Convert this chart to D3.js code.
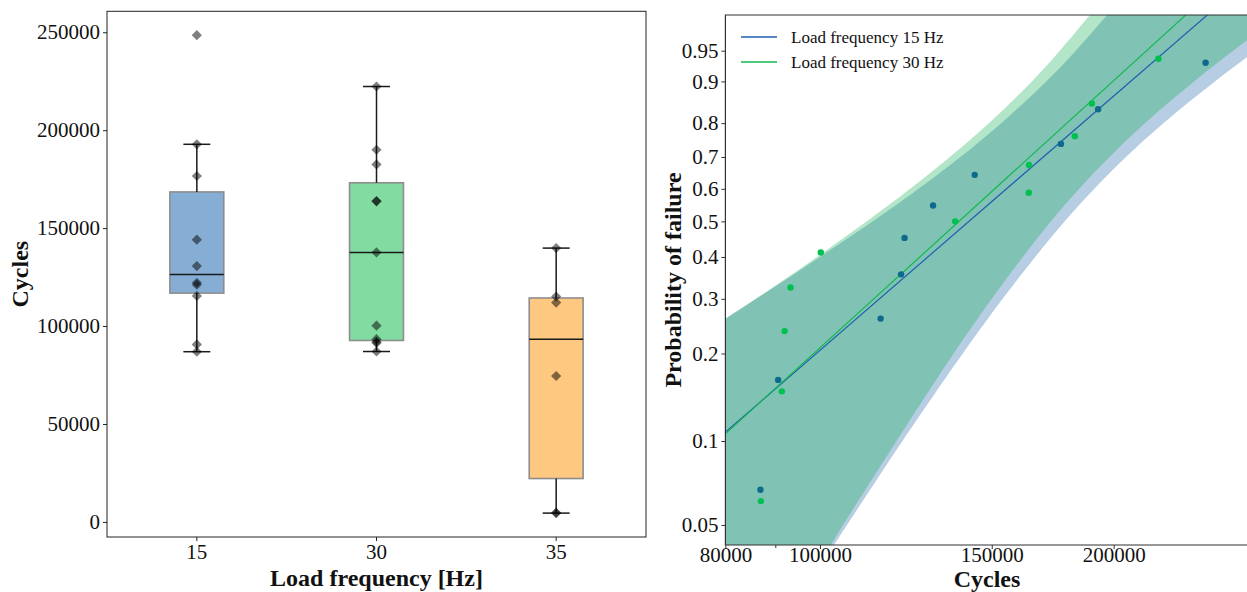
<!DOCTYPE html>
<html>
<head>
<meta charset="utf-8">
<script src="https://cdn.jsdelivr.net/npm/d3@7"></script>
<style>
  body { margin: 0; background: #fff; }
  svg { display: block; }
  text { font-family: "Liberation Serif", "Times New Roman", serif; fill: #111; }
</style>
</head>
<body>
<svg id="chart" width="1247" height="592"></svg>
<script>
// ---- fatigue test results (cycles to failure) per load frequency ----
const frequencies = ["15", "30", "35"];
const cycles15 = [86900, 90600, 115400, 121100, 122100, 130600, 144100, 176600, 192800, 248500];
const cycles30 = [87000, 91400, 92000, 93300, 100200, 137600, 163700, 163800, 182500, 190000, 222300];
const cycles35 = [4500, 4700, 74500, 112000, 115100, 139800];
const boxColors = ["#86aed4", "#82dca2", "#ffc880"];
const cycleTicks = [0, 50000, 100000, 150000, 200000, 250000];

// ---- Weibull probability plot ----
const rank15 = [0.067, 0.163, 0.260, 0.356, 0.452, 0.548, 0.644, 0.740, 0.837, 0.933];
const rank30 = [0.061, 0.149, 0.237, 0.325, 0.412, 0.500, 0.588, 0.675, 0.763, 0.851, 0.939];
const shape15 = 3.146, scale15 = 159700;
const shape30 = 3.306, scale30 = 155100;
// confidence bounds on cycles at each probability level
const bandProb = [0.03, 0.04, 0.05, 0.07, 0.1, 0.15, 0.2, 0.3, 0.4, 0.5, 0.6, 0.7, 0.8, 0.9, 0.95, 0.98, 0.99];
const band15Low  = [28540, 32620, 36190, 42380, 50160, 60910, 70130, 86020, 100000, 113300, 126200, 139300, 153400, 170600, 182900, 195100, 202600];
const band15High = [97080, 102300, 106600, 113500, 121500, 131800, 140100, 153900, 166200, 178200, 191100, 205900, 224900, 254000, 279900, 310900, 332200];
const band30Low  = [30110, 34190, 37750, 43870, 51510, 61960, 70810, 85970, 99290, 111700, 123700, 135900, 149000, 164900, 176100, 187400, 194200];
const band30High = [96670, 101600, 105600, 112200, 119800, 129400, 137100, 150000, 161400, 172500, 184400, 198000, 215300, 241800, 265200, 293000, 312000];
const probTicks = [0.05, 0.1, 0.2, 0.3, 0.4, 0.5, 0.6, 0.7, 0.8, 0.9, 0.95];
const cycleAxisTicks = [80000, 100000, 150000, 200000];
const cycleMinorTicks = [90000];
const probLimits = [0.04227, 0.98291];
const cycleLimits = [80000, 275000];

const svg = d3.select("#chart");

// =================== left: box plot ===================
const L = { left: 107, right: 646, top: 11.3, bottom: 537 };
const groups = [cycles15, cycles30, cycles35];

const xBand = d3.scaleBand().domain(frequencies).range([L.left, L.right]).padding(0);
const yLeft = d3.scaleLinear().domain([-7700, 260700]).range([L.bottom, L.top]);

const left = svg.append("g");

groups.forEach((vals, i) => {
  const s = vals.slice().sort(d3.ascending);
  const q1 = d3.quantile(s, 0.25), med = d3.quantile(s, 0.5), q3 = d3.quantile(s, 0.75);
  const iqr = q3 - q1;
  const lo = d3.min(s.filter(v => v >= q1 - 1.5 * iqr));
  const hi = d3.max(s.filter(v => v <= q3 + 1.5 * iqr));
  const cx = xBand(frequencies[i]) + xBand.bandwidth() / 2;
  const bw = xBand.bandwidth() * 0.3;
  const cap = xBand.bandwidth() * 0.15;
  const g = left.append("g");

  g.append("rect")
    .attr("x", cx - bw / 2).attr("width", bw)
    .attr("y", yLeft(q3)).attr("height", yLeft(q1) - yLeft(q3))
    .attr("fill", boxColors[i])
    .attr("stroke", "#8d8d8d").attr("stroke-width", 1.6);

  const line = (x1, y1, x2, y2) => g.append("line")
    .attr("x1", x1).attr("y1", y1).attr("x2", x2).attr("y2", y2)
    .attr("stroke", "#1a1a1a").attr("stroke-width", 1.5);

  line(cx - bw / 2, yLeft(med), cx + bw / 2, yLeft(med));
  line(cx, yLeft(q3), cx, yLeft(hi));
  line(cx, yLeft(q1), cx, yLeft(lo));
  line(cx - cap / 2, yLeft(hi), cx + cap / 2, yLeft(hi));
  line(cx - cap / 2, yLeft(lo), cx + cap / 2, yLeft(lo));

  g.selectAll("path.pt").data(vals).join("path")
    .attr("class", "pt")
    .attr("d", d3.symbol(d3.symbolSquare, 52))
    .attr("transform", d => `translate(${cx},${yLeft(d)}) rotate(45)`)
    .attr("fill", "#000").attr("fill-opacity", 0.5);
});

left.append("rect")
  .attr("x", L.left).attr("y", L.top)
  .attr("width", L.right - L.left).attr("height", L.bottom - L.top)
  .attr("fill", "none").attr("stroke", "#222").attr("stroke-width", 1);

const yAxisL = left.append("g").attr("transform", `translate(${L.left},0)`)
  .call(d3.axisLeft(yLeft).tickValues(cycleTicks).tickFormat(d3.format("d")).tickSize(4).tickPadding(3));
const xAxisL = left.append("g").attr("transform", `translate(0,${L.bottom})`)
  .call(d3.axisBottom(xBand).tickSize(4).tickPadding(3));
[yAxisL, xAxisL].forEach(a => {
  a.select(".domain").remove();
  a.selectAll("text").attr("font-size", 21).attr("font-family", null);
  a.selectAll("line").attr("stroke", "#222");
});
xAxisL.selectAll("text").attr("dy", null).attr("y", 22);

left.append("text")
  .attr("x", (L.left + L.right) / 2).attr("y", 586)
  .attr("text-anchor", "middle").attr("font-size", 24).attr("font-weight", "bold")
  .text("Load frequency [Hz]");
left.append("text")
  .attr("transform", `translate(28,${(L.top + L.bottom) / 2}) rotate(-90)`)
  .attr("text-anchor", "middle").attr("font-size", 24).attr("font-weight", "bold")
  .text("Cycles");

// =================== right: Weibull probability plot ===================
const R = { left: 725.4, top: 15, bottom: 545 };
const wOf = p => Math.log(-Math.log(1 - p));
const xC = d3.scaleLog().domain(cycleLimits).range([R.left, R.left + 423.7 * Math.log(cycleLimits[1] / cycleLimits[0])]);
const yW = d3.scaleLinear().domain(probLimits.map(wOf)).range([R.bottom, R.top]);
const yP = p => yW(wOf(p));

const right = svg.append("g");
right.append("clipPath").attr("id", "plot-clip")
  .append("rect").attr("x", R.left).attr("y", R.top).attr("width", 600).attr("height", R.bottom - R.top);

const plot = right.append("g").attr("clip-path", "url(#plot-clip)");

const bandArea = d3.area()
  .y(d => yP(d.p))
  .x0(d => xC(d.lo))
  .x1(d => xC(d.hi))
  .curve(d3.curveCatmullRom);

const band15 = bandProb.map((p, i) => ({ p, lo: band15Low[i], hi: band15High[i] }));
const band30 = bandProb.map((p, i) => ({ p, lo: band30Low[i], hi: band30High[i] }));

plot.append("path").datum(band15).attr("d", bandArea)
  .attr("fill", "#0c58a2").attr("fill-opacity", 0.3);
plot.append("path").datum(band30).attr("d", bandArea)
  .attr("fill", "#02ac48").attr("fill-opacity", 0.3);

// fitted Weibull CDF lines
const fitLine = (shape, scale) => [60000, 400000].map(c => ({ c, p: 1 - Math.exp(-Math.pow(c / scale, shape)) }));
const lineGen = d3.line().x(d => xC(d.c)).y(d => yP(d.p));
plot.append("path").datum(fitLine(shape15, scale15)).attr("d", lineGen)
  .attr("fill", "none").attr("stroke", "#1f5fae").attr("stroke-width", 1.2);
plot.append("path").datum(fitLine(shape30, scale30)).attr("d", lineGen)
  .attr("fill", "none").attr("stroke", "#12b84e").attr("stroke-width", 1.2);

const sorted15 = cycles15.slice().sort(d3.ascending);
const sorted30 = cycles30.slice().sort(d3.ascending);
plot.selectAll("circle.p15").data(sorted15).join("circle")
  .attr("class", "p15")
  .attr("cx", d => xC(d)).attr("cy", (d, i) => yP(rank15[i])).attr("r", 3.2)
  .attr("fill", "#0d6a8c");
plot.selectAll("circle.p30").data(sorted30).join("circle")
  .attr("class", "p30")
  .attr("cx", d => xC(d)).attr("cy", (d, i) => yP(rank30[i])).attr("r", 3.2)
  .attr("fill", "#00c050");

// spines
right.append("path")
  .attr("d", `M1247,${R.top}H${R.left}V${R.bottom}H1247`)
  .attr("fill", "none").attr("stroke", "#333").attr("stroke-width", 1.2);

const yAxisR = right.append("g").attr("transform", `translate(${R.left},0)`)
  .call(d3.axisLeft(yW).tickValues(probTicks.map(wOf))
    .tickFormat((w, i) => String(probTicks[i])).tickSize(4).tickPadding(3));
const xAxisR = right.append("g").attr("transform", `translate(0,${R.bottom})`)
  .call(d3.axisBottom(xC).tickValues(cycleAxisTicks).tickFormat(d3.format("d")).tickSize(4).tickPadding(3));
const xMinor = right.append("g").attr("transform", `translate(0,${R.bottom})`)
  .call(d3.axisBottom(xC).tickValues(cycleMinorTicks).tickFormat("").tickSize(3));
[yAxisR, xAxisR, xMinor].forEach(a => {
  a.select(".domain").remove();
  a.selectAll("text").attr("font-size", 21).attr("font-family", null);
  a.selectAll("line").attr("stroke", "#333");
});
xAxisR.selectAll("text").attr("dy", null).attr("y", 17);

right.append("text")
  .attr("x", 987).attr("y", 587)
  .attr("text-anchor", "middle").attr("font-size", 24).attr("font-weight", "bold")
  .text("Cycles");
right.append("text")
  .attr("transform", `translate(681,${(R.top + R.bottom) / 2}) rotate(-90)`)
  .attr("text-anchor", "middle").attr("font-size", 24).attr("font-weight", "bold")
  .text("Probability of failure");

// legend
const legendItems = [
  { label: "Load frequency 15 Hz", color: "#1f5fae" },
  { label: "Load frequency 30 Hz", color: "#12b84e" }
];
const legend = right.append("g");
legendItems.forEach((d, i) => {
  const y = 37 + i * 25;
  legend.append("line").attr("x1", 741).attr("x2", 777).attr("y1", y).attr("y2", y)
    .attr("stroke", d.color).attr("stroke-width", 1.4);
  legend.append("text").attr("x", 791).attr("y", y + 6)
    .attr("font-size", 17).text(d.label);
});
</script>
</body>
</html>
